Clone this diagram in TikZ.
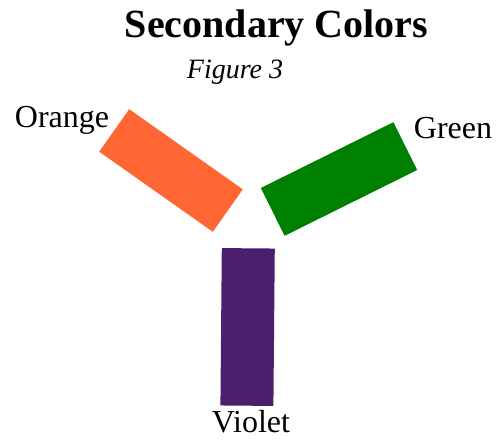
\documentclass[tikz,border=0pt]{standalone}
\usepackage{fontspec}
\setmainfont{Liberation Serif}
\usepackage{xcolor}
\definecolor{secorange}{RGB}{255,102,51}
\definecolor{secgreen}{RGB}{0,128,0}
\definecolor{secviolet}{RGB}{75,31,108}

\begin{document}
\begin{tikzpicture}[x=1pt, y=-1pt,
  bar/.style={rectangle, inner sep=0, outer sep=0, minimum height=52pt},
  lbl/.style={anchor=base, inner sep=0, font=\fontsize{32}{34}\selectfont}]
\useasboundingbox (0,0) rectangle (498,440);
% title
\node[anchor=base, inner sep=0, font=\fontsize{40}{42}\selectfont\bfseries] (title) at (276.5,37) {Secondary Colors};
\node[anchor=base, inner sep=0, font=\fontsize{28}{30}\selectfont\itshape] (fig) at (235,78) {Figure 3};
% the three bars
\node[bar, fill=secorange, minimum width=139pt, rotate=-35.2] (orange) at (171,170.5) {};
\node[bar, fill=secgreen, minimum width=148pt, minimum height=53.4pt, rotate=26.4] (green) at (339,179) {};
\node[bar, fill=secviolet, minimum width=53pt, minimum height=157.4pt, rotate=-0.5] (violet) at (247.6,327) {};
% labels
\node[lbl] (orangelbl) at (62,127) {Orange};
\node[lbl] (greenlbl) at (453,138) {Green};
\node[lbl] (violetlbl) at (251,432) {Violet};
\end{tikzpicture}
\end{document}
